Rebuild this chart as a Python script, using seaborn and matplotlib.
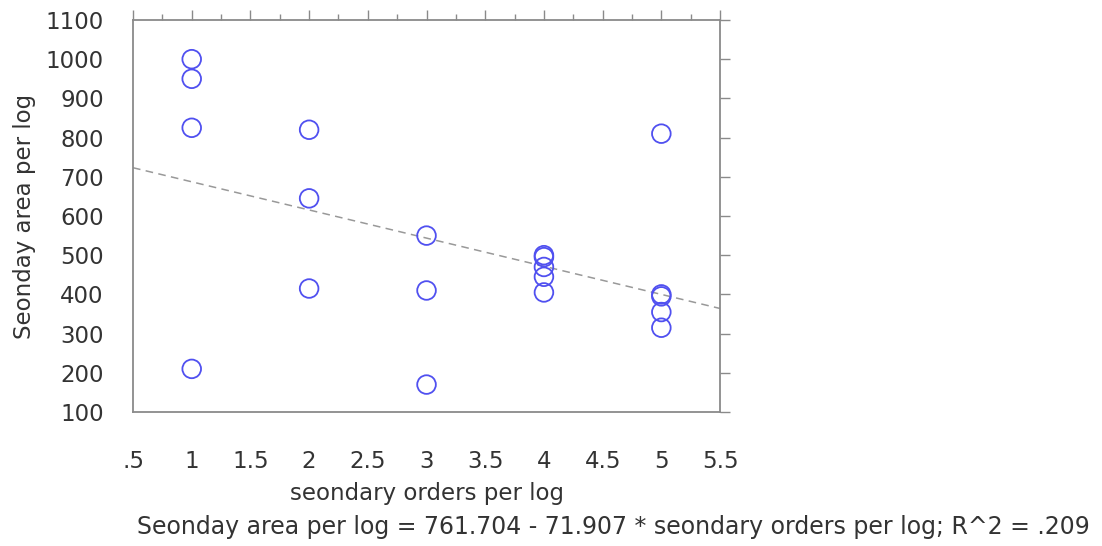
import numpy as np
import pandas as pd
import matplotlib
matplotlib.use("Agg")
import matplotlib.pyplot as plt
import seaborn as sns
from matplotlib.ticker import MultipleLocator, FuncFormatter

# valores
orders = [1, 1, 1, 1,
          2, 2, 2,
          3, 3, 3,
          4, 4, 4, 4, 4,
          5, 5, 5, 5, 5]
area = [1000, 950, 825, 210,
        820, 645, 415,
        550, 410, 170,
        500, 495, 470, 445, 405,
        810, 400, 395, 355, 315]

x_ticks = [0.5, 1, 1.5, 2, 2.5, 3, 3.5, 4, 4.5, 5, 5.5]
y_ticks = [100, 200, 300, 400, 500, 600, 700, 800, 900, 1000, 1100]
eq_text = "Seonday area per log = 761.704 - 71.907 * seondary orders per log; R^2 = .209"

df = pd.DataFrame({"orders": orders, "area": area})

sns.set_style("white")
plt.rcParams["font.family"] = ["DejaVu Sans"]

fig = plt.figure(figsize=(11.02, 5.46), dpi=100)
ax = fig.add_axes([0.1207, 0.2454, 0.5327, 0.718])

ax.set_xlim(0.5, 5.5)
ax.set_ylim(100, 1100)

sns.regplot(data=df, x="orders", y="area", ax=ax, scatter=False, ci=None,
            truncate=False, line_kws={"color": "#999999", "lw": 1.1, "ls": (0, (5, 3.5))})
sns.scatterplot(data=df, x="orders", y="area", ax=ax, marker="o", s=180,
                facecolors="none", edgecolor="#5050f0", linewidth=1.3, zorder=3)

ax.set_xlim(0.5, 5.5)
ax.set_ylim(100, 1100)
ax.set_xticks(x_ticks)
ax.set_yticks(y_ticks)
ax.xaxis.set_minor_locator(MultipleLocator(0.25))
ax.xaxis.set_major_formatter(FuncFormatter(lambda v, p: ("%g" % v).replace("0.", ".")))

for s in ax.spines.values():
    s.set_visible(True)
    s.set_color("#8a8a8a")
    s.set_linewidth(1.3)

ax.tick_params(axis="both", which="both", direction="out", colors="#8a8a8a",
               top=True, right=True, labelcolor="#333333", labelsize=16.5)
ax.tick_params(axis="both", which="major", length=7, width=1)
ax.tick_params(axis="both", which="minor", length=4, width=1)
ax.tick_params(axis="y", pad=14)
ax.tick_params(axis="x", pad=20)

ax.set_xlabel("seondary orders per log", fontsize=16.5, color="#333333", labelpad=7)
ax.set_ylabel("Seonday area per log", fontsize=16.5, color="#333333", labelpad=7)

fig.text(0.1243, 0.034, eq_text, fontsize=17, color="#333333", ha="left", va="center")

fig.savefig("out.png", dpi=100)
